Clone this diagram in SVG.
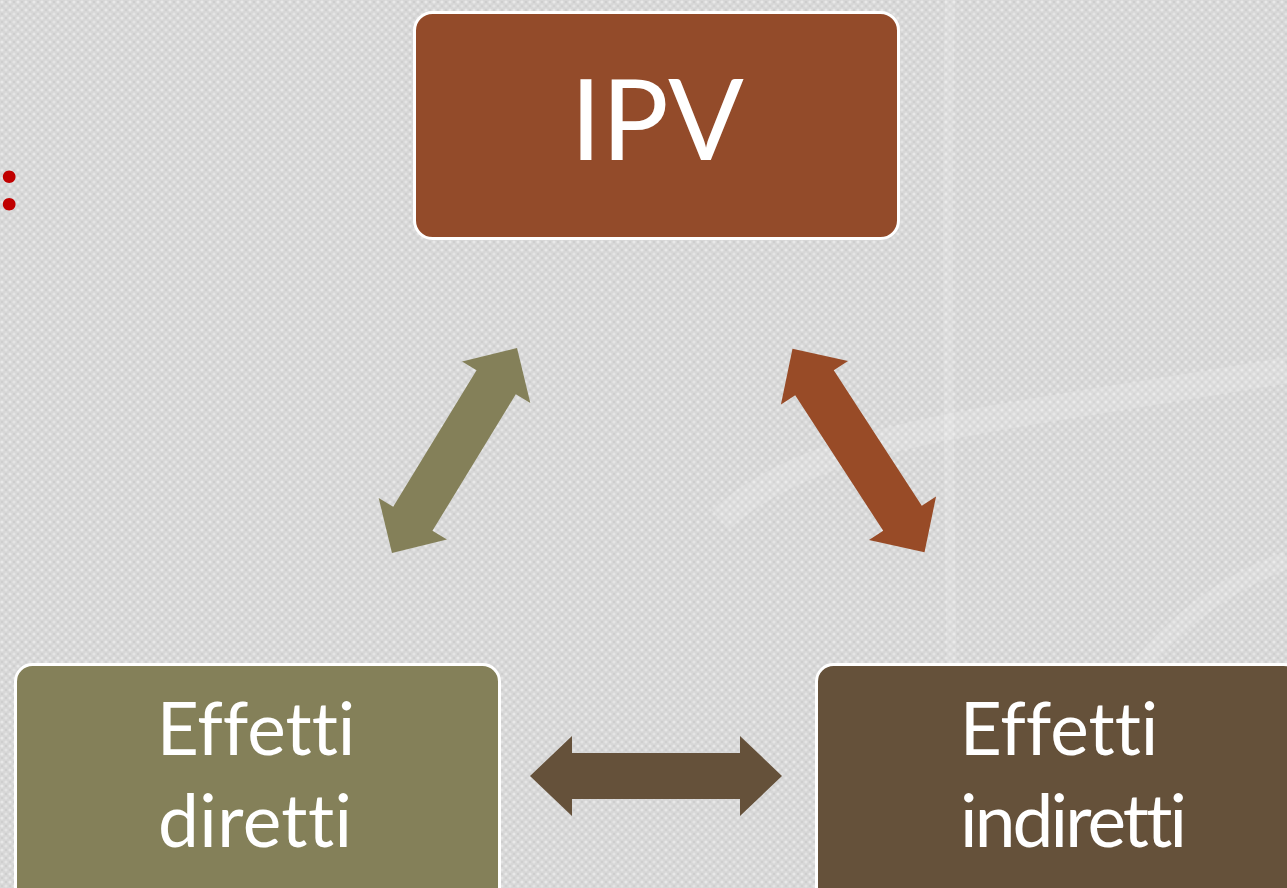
<svg xmlns="http://www.w3.org/2000/svg" width="1287" height="888" viewBox="0 0 1287 888">
  <style>
    .box { stroke: #FFFFFF; stroke-width: 3; }
    .lbl { font-family: Lato, "Open Sans", "Liberation Sans", sans-serif; fill: #FFFFFF; text-anchor: middle; font-variant-ligatures: none; font-feature-settings: "liga" 0, "clig" 0, "dlig" 0; }
    .big { font-size: 112px; }
    .mid { font-size: 73px; }
  </style>
  <defs>
    <pattern id="canvas" width="8" height="8" patternUnits="userSpaceOnUse">
      <rect width="8" height="8" fill="#D7D7D7"/>
      <circle cx="2" cy="2" r="1.6" fill="#E8E8E8"/>
      <circle cx="6" cy="6" r="1.6" fill="#E4E4E4"/>
      <circle cx="6" cy="2" r="1" fill="#CBCBCB"/>
      <circle cx="2" cy="6" r="1" fill="#CDCDCD"/>
    </pattern>
    <path id="dblArrow" d="M -120 0 L -80 -40 L -80 -23 L 80 -23 L 80 -40 L 120 0 L 80 40 L 80 23 L -80 23 L -80 40 Z"/>
  </defs>

  <rect width="1287" height="888" fill="url(#canvas)"/>
  <g id="background-swooshes" fill="none" stroke="#FFFFFF" stroke-opacity="0.14">
    <path d="M 950 0 C 945 250 950 600 955 888" stroke-width="10"/>
    <path d="M 720 520 C 820 430 1000 420 1287 370" stroke-width="26"/>
    <path d="M 1040 888 C 1080 700 1180 600 1287 560" stroke-width="18"/>
  </g>

  <text id="title-colon" x="-1" y="210" font-family="Lato, 'Liberation Sans', sans-serif" font-weight="900" font-size="78" fill="#C00000">:</text>

  <g id="connectors">
    <use href="#dblArrow" fill="#848059" transform="translate(454.5 450.5) rotate(-58.6)"/>
    <use href="#dblArrow" fill="#984B27" transform="translate(858.5 450.5) rotate(57) scale(1.01 1)"/>
    <use href="#dblArrow" fill="#65513A" transform="translate(656 776) scale(1.05 1)"/>
  </g>

  <g id="node-ipv">
    <rect class="box" x="414.5" y="12.5" width="484" height="226" rx="18" fill="#934B2A"/>
    <text class="lbl big" x="657" y="160">IPV</text>
  </g>

  <g id="node-effetti-diretti">
    <rect class="box" x="15.5" y="664.5" width="484" height="250" rx="17" fill="#848059"/>
    <text class="lbl mid" x="256" y="755">Effetti</text>
    <text class="lbl mid" x="255" y="847" textLength="194" lengthAdjust="spacing">diretti</text>
  </g>

  <g id="node-effetti-indiretti">
    <rect class="box" x="816.5" y="664.5" width="484" height="250" rx="17" fill="#65513A"/>
    <text class="lbl mid" x="1059" y="755">Effetti</text>
    <text class="lbl mid" x="1073.5" y="847" textLength="227" lengthAdjust="spacing">indiretti</text>
  </g>
</svg>
